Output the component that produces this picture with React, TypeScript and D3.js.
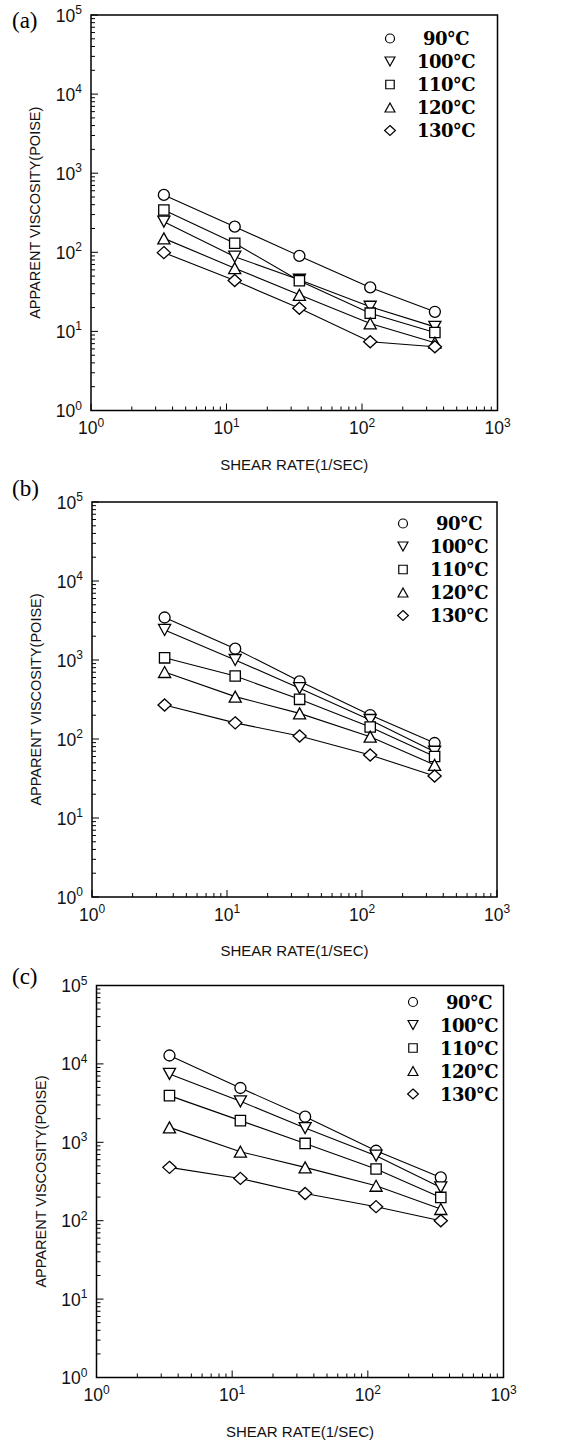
import React from "react";
import * as d3 from "d3";

// ---- data ----
const shearRate = [3.45, 11.5, 34.5, 115, 345];
const temperatures = ["90", "100", "110", "120", "130"];
const markerTypes = ["circle", "triangleDown", "square", "triangleUp", "diamond"];

const viscA90 = [531, 211, 90, 36, 17.7];
const viscA100 = [244, 88, 45, 20.5, 11.4];
const viscA110 = [343, 130, 43.7, 17, 9.7];
const viscA120 = [150, 63, 29, 12.6, 7.2];
const viscA130 = [99, 44, 19.6, 7.4, 6.4];

const viscB90 = [3450, 1390, 537, 201, 89];
const viscB100 = [2400, 1000, 440, 174, 69];
const viscB110 = [1065, 627, 318, 142, 60];
const viscB120 = [705, 344, 211, 107, 47];
const viscB130 = [269, 160, 109, 62.7, 34];

const viscC90 = [12800, 4930, 2120, 780, 356];
const viscC100 = [7450, 3330, 1520, 675, 266];
const viscC110 = [3940, 1890, 968, 456, 198];
const viscC120 = [1550, 759, 479, 279, 141];
const viscC130 = [479, 346, 222, 151, 100];

const xDomain = [1, 1000];
const yDomain = [1, 100000];
const xTickExps = [0, 1, 2, 3];
const yTickExps = [0, 1, 2, 3, 4, 5];

const panels = [
  {
    label: "(a)",
    series: [viscA90, viscA100, viscA110, viscA120, viscA130],
    box: { left: 91, right: 497.5, top: 15, bottom: 410.5 },
    labelY: 28,
    legend: { symX: 390, textX: 446, rowY: 38.5 },
  },
  {
    label: "(b)",
    series: [viscB90, viscB100, viscB110, viscB120, viscB130],
    box: { left: 92, right: 497, top: 502, bottom: 897 },
    labelY: 496,
    legend: { symX: 403, textX: 459, rowY: 523.5 },
  },
  {
    label: "(c)",
    series: [viscC90, viscC100, viscC110, viscC120, viscC130],
    box: { left: 96.5, right: 503.5, top: 985.5, bottom: 1377.5 },
    labelY: 984,
    legend: { symX: 413, textX: 469, rowY: 1002 },
  },
];

const SANS = "'Liberation Sans', Arial, sans-serif";
const SERIF = "'Liberation Serif', 'Times New Roman', serif";

function markerPath(type: string, s: number): string {
  switch (type) {
    case "circle": {
      const r = s * 0.5;
      return `M${-r},0A${r},${r} 0 1,0 ${r},0A${r},${r} 0 1,0 ${-r},0Z`;
    }
    case "square": {
      const h = s * 0.47;
      return `M${-h},${-h}H${h}V${h}H${-h}Z`;
    }
    case "triangleUp": {
      const w = s * 0.55, h = s * 0.5;
      return `M0,${-h}L${w},${h}L${-w},${h}Z`;
    }
    case "triangleDown": {
      const w = s * 0.55, h = s * 0.5;
      return `M0,${h}L${w},${-h}L${-w},${-h}Z`;
    }
    case "diamond": {
      const w = s * 0.6, h = s * 0.55;
      return `M0,${-h}L${w},0L0,${h}L${-w},0Z`;
    }
  }
  return "";
}

function Panel({ p }: { p: (typeof panels)[number] }) {
  const { box } = p;
  const x = d3.scaleLog().domain(xDomain).range([box.left, box.right]);
  const y = d3.scaleLog().domain(yDomain).range([box.bottom, box.top]);
  const xTicks = x.ticks();
  const yTicks = y.ticks();
  const isMajor = (v: number) => Math.abs(Math.log10(v) - Math.round(Math.log10(v))) < 1e-9;
  const line = d3
    .line<number>()
    .x((_, i) => x(shearRate[i]))
    .y((d) => y(d));

  return (
    <g>
      {/* panel label */}
      <text x={12} y={p.labelY} fontFamily={SERIF} fontSize={23}>
        {p.label}
      </text>

      {/* ticks */}
      {xTicks.map((t, i) => (
        <line
          key={"xt" + i}
          x1={x(t)}
          x2={x(t)}
          y1={box.bottom}
          y2={box.bottom - (isMajor(t) ? 7 : 4)}
          stroke="#000"
          strokeWidth={1}
        />
      ))}
      {yTicks.map((t, i) => (
        <line
          key={"yt" + i}
          x1={box.left}
          x2={box.left + (isMajor(t) ? 7 : 4)}
          y1={y(t)}
          y2={y(t)}
          stroke="#000"
          strokeWidth={1}
        />
      ))}

      {/* frame */}
      <rect
        x={box.left}
        y={box.top}
        width={box.right - box.left}
        height={box.bottom - box.top}
        fill="none"
        stroke="#000"
        strokeWidth={1.5}
      />

      {/* tick labels */}
      {xTickExps.map((e) => (
        <text
          key={"xl" + e}
          x={x(Math.pow(10, e))}
          y={box.bottom + 23.5}
          textAnchor="middle"
          fontFamily={SANS}
          fontSize={17.5}
          fill="#111"
        >
          10
          <tspan fontSize={12} dy={-7.5}>
            {e}
          </tspan>
        </text>
      ))}
      {yTickExps.map((e) => (
        <text
          key={"yl" + e}
          x={box.left - 9}
          y={y(Math.pow(10, e)) + 6.5}
          textAnchor="end"
          fontFamily={SANS}
          fontSize={17.5}
          fill="#111"
        >
          10
          <tspan fontSize={12} dy={-7.5}>
            {e}
          </tspan>
        </text>
      ))}

      {/* axis titles */}
      <text
        x={(box.left + box.right) / 2}
        y={box.bottom + 59}
        textAnchor="middle"
        fontFamily={SANS}
        fontSize={15}
        fill="#111"
      >
        SHEAR RATE(1/SEC)
      </text>
      <text
        transform={`translate(${box.left - 51},${(box.top + box.bottom) / 2}) rotate(-90)`}
        textAnchor="middle"
        fontFamily={SANS}
        fontSize={14.5}
        fill="#111"
      >
        APPARENT VISCOSITY(POISE)
      </text>

      {/* series */}
      {p.series.map((vals, si) => (
        <g key={"s" + si}>
          <path d={line(vals) || ""} fill="none" stroke="#000" strokeWidth={1.1} />
          {vals.map((v, i) => (
            <path
              key={i}
              d={markerPath(markerTypes[si], 11)}
              transform={`translate(${x(shearRate[i])},${y(v)})`}
              fill="#fff"
              stroke="#000"
              strokeWidth={1.3}
            />
          ))}
        </g>
      ))}

      {/* legend */}
      {temperatures.map((t, i) => {
        const cy = p.legend.rowY + i * 23;
        return (
          <g key={"lg" + i}>
            <path
              d={markerPath(markerTypes[i], 9)}
              transform={`translate(${p.legend.symX},${cy})`}
              fill="#fff"
              stroke="#000"
              strokeWidth={1.2}
            />
            <text
              x={p.legend.textX}
              y={cy + 6.5}
              textAnchor="middle"
              fontFamily="'DejaVu Serif', serif"
              fontWeight="bold"
              fontSize={18}
              letterSpacing={-0.6}
            >
              {t}°C
            </text>
          </g>
        );
      })}
    </g>
  );
}

export default function App() {
  return (
    <div style={{ position: "absolute", left: 0, top: 0 }}>
      <svg width={563} height={1441} style={{ display: "block", background: "#fff" }}>
        <rect x={0} y={0} width={563} height={1441} fill="#fff" />
        {panels.map((p, i) => (
          <Panel key={i} p={p} />
        ))}
      </svg>
    </div>
  );
}
